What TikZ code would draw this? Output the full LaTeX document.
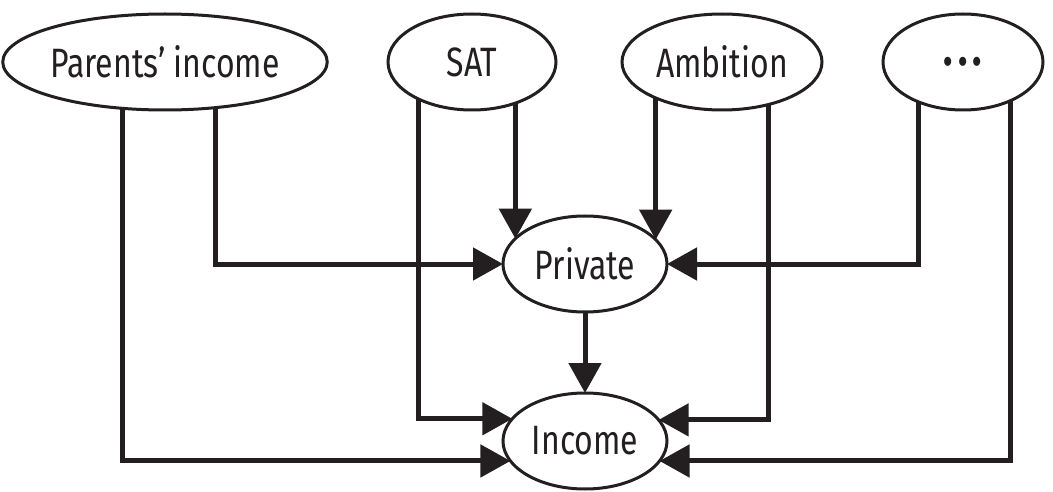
\documentclass[tikz,border=0pt]{standalone}
\usepackage{fontspec}
\setmainfont[FakeStretch=0.78]{Fira Sans}
\usetikzlibrary{arrows.meta,shapes.geometric}
\definecolor{ink}{RGB}{35,31,32}
\pgfdeclarelayer{bg}
\pgfsetlayers{bg,main}
\begin{document}
\begin{tikzpicture}[x=1pt,y=-1pt,
  var/.style={ellipse,draw=ink,line width=3pt,fill=white,minimum height=96pt,inner sep=0pt,outer sep=0pt,font=\fontsize{41}{45}\selectfont,text=ink},
  arr/.style={draw=ink,line width=5pt,-{Triangle[length=30pt,width=32pt]}}]
\useasboundingbox (0,0) rectangle (1053,492);
\node[var,minimum width=314pt] (P) at (165,62) {Parents’ income};
\node[var,minimum width=168pt] (S) at (472,62) {SAT};
\node[var,minimum width=200pt] (A) at (722,62) {Ambition};
\node[var,minimum width=160pt] (D) at (963,62) {\fontsize{50}{50}\selectfont\bfseries .\kern5pt.\kern5pt.};
\node[var,minimum width=164pt] (Pr) at (585,264) {Private};
\node[var,minimum width=164pt] (Inc) at (585,441) {Income};
\begin{pgfonlayer}{bg}
\draw[arr] ([xshift=-43pt]P.center) |- (Inc.195.9);
\draw[arr] ([xshift=50pt]P.center) |- (Pr.west);
\draw[arr] ([xshift=-54pt]S.center) |- (Inc.163.2);
\draw[arr] (Pr.160.3 |- S.center) -- (Pr.160.3);
\draw[arr] (Pr.19.7 |- A.center) -- (Pr.19.7);
\draw[arr] ([xshift=46pt]A.center) |- (Inc.16.8);
\draw[arr] ([xshift=-45pt]D.center) |- (Pr.east);
\draw[arr] ([xshift=47pt]D.center) |- (Inc.-15.9);
\end{pgfonlayer}
\draw[arr] (Pr.south) -- (Inc.north);
\end{tikzpicture}
\end{document}
